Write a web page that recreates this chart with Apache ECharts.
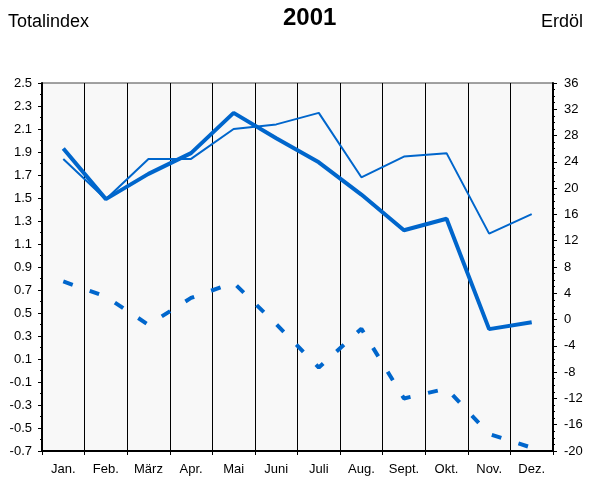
<!DOCTYPE html>
<html>
<head>
<meta charset="utf-8">
<script src="https://cdn.jsdelivr.net/npm/echarts@6/dist/echarts.min.js"></script>
<style>
  html, body { margin: 0; padding: 0; background: #fff; }
  #chart { width: 591px; height: 482px; }
</style>
</head>
<body>
<div id="chart"></div>
<script>
// months
var months = ['Jan.', 'Feb.', 'März', 'Apr.', 'Mai', 'Juni', 'Juli', 'Aug.', 'Sept.', 'Okt.', 'Nov.', 'Dez.'];
// left axis (Totalindex), thick and thin line
var totalThick = [1.93, 1.49, 1.71, 1.89, 2.24, 2.02, 1.81, 1.53, 1.22, 1.32, 0.36, 0.42];
var totalThin = [1.84, 1.49, 1.84, 1.84, 2.10, 2.14, 2.24, 1.68, 1.86, 1.89, 1.19, 1.36];
// right axis (Erdöl), dashed line
var oilDashed = [5.8, 3.5, -0.8, 3.3, 5.6, -0.7, -7.3, -1.4, -12.0, -10.5, -17.4, -19.5];
// tick labels
var leftLabels = [-0.7, -0.5, -0.3, -0.1, 0.1, 0.3, 0.5, 0.7, 0.9, 1.1, 1.3, 1.5, 1.7, 1.9, 2.1, 2.3, 2.5];
var leftMin = -0.7, leftMax = 2.5;
var rightMin = -20, rightMax = 36, rightStep = 4;

var blue = '#0066cc';
var font = 'Liberation Sans, Arial, sans-serif';

var drawCharts = echarts.init(document.getElementById('chart'));
var option = {
  animation: false,
  textStyle: { fontFamily: font },
  title: [
    { text: 'Totalindex', left: 3, top: 8, textStyle: { fontSize: 18, fontWeight: 'normal', color: '#000', fontFamily: font } },
    { text: '2001', left: 278, top: 1, textStyle: { fontSize: 24, fontWeight: 'bold', color: '#000', fontFamily: font } },
    { text: 'Erdöl', right: 3, top: 8, textStyle: { fontSize: 18, fontWeight: 'normal', color: '#000', fontFamily: font } }
  ],
  grid: {
    left: 42,
    right: 38,
    top: 83,
    bottom: 31,
    show: true,
    backgroundColor: '#f8f8f8',
    borderColor: '#444',
    borderWidth: 1
  },
  xAxis: {
    type: 'category',
    data: months,
    boundaryGap: true,
    axisLine: { onZero: false, lineStyle: { color: '#000', width: 2 } },
    axisTick: { show: true, interval: 0, length: 4, lineStyle: { color: '#000' } },
    axisLabel: { interval: 0, margin: 12, fontSize: 13, color: '#000' },
    splitLine: { show: true, interval: 0, lineStyle: { color: '#000', width: 1 } }
  },
  yAxis: [
    {
      type: 'value',
      position: 'left',
      min: leftMin,
      max: leftMax,
      interval: 0.1,
      axisLine: { show: true, onZero: false, lineStyle: { color: '#000', width: 2 } },
      axisTick: { show: true, length: 4, customValues: leftLabels, lineStyle: { color: '#000' } },
      axisLabel: {
        customValues: leftLabels,
        margin: 10,
        fontSize: 13,
        color: '#000',
        formatter: function (v) { return v.toFixed(1); }
      },
      splitLine: { show: false }
    },
    {
      type: 'value',
      position: 'right',
      min: rightMin,
      max: rightMax,
      interval: rightStep,
      axisLine: { show: true, onZero: false, lineStyle: { color: '#000', width: 2 } },
      axisTick: { show: true, length: 4, lineStyle: { color: '#000' } },
      minorTick: { show: true, splitNumber: 4, length: 2, lineStyle: { color: '#000' } },
      axisLabel: { margin: 11, fontSize: 13, color: '#000' },
      splitLine: { show: false }
    },
    {
      // minor ticks of the left axis
      type: 'value',
      position: 'left',
      min: leftMin,
      max: leftMax,
      interval: 0.1,
      axisLine: { show: false, onZero: false },
      axisTick: { show: true, length: 2, lineStyle: { color: '#000' } },
      axisLabel: { show: false },
      splitLine: { show: false }
    }
  ],
  series: [
    {
      name: 'Totalindex dünn',
      type: 'line',
      yAxisIndex: 0,
      data: totalThin,
      symbol: 'none',
      lineStyle: { color: blue, width: 2 }
    },
    {
      name: 'Totalindex',
      type: 'line',
      yAxisIndex: 0,
      data: totalThick,
      symbol: 'none',
      lineStyle: { color: blue, width: 4 }
    },
    {
      name: 'Erdöl',
      type: 'line',
      yAxisIndex: 1,
      data: oilDashed,
      symbol: 'none',
      lineStyle: { color: blue, width: 4, type: [10, 18] }
    }
  ]
};
drawCharts.setOption(option);
</script>
</body>
</html>
